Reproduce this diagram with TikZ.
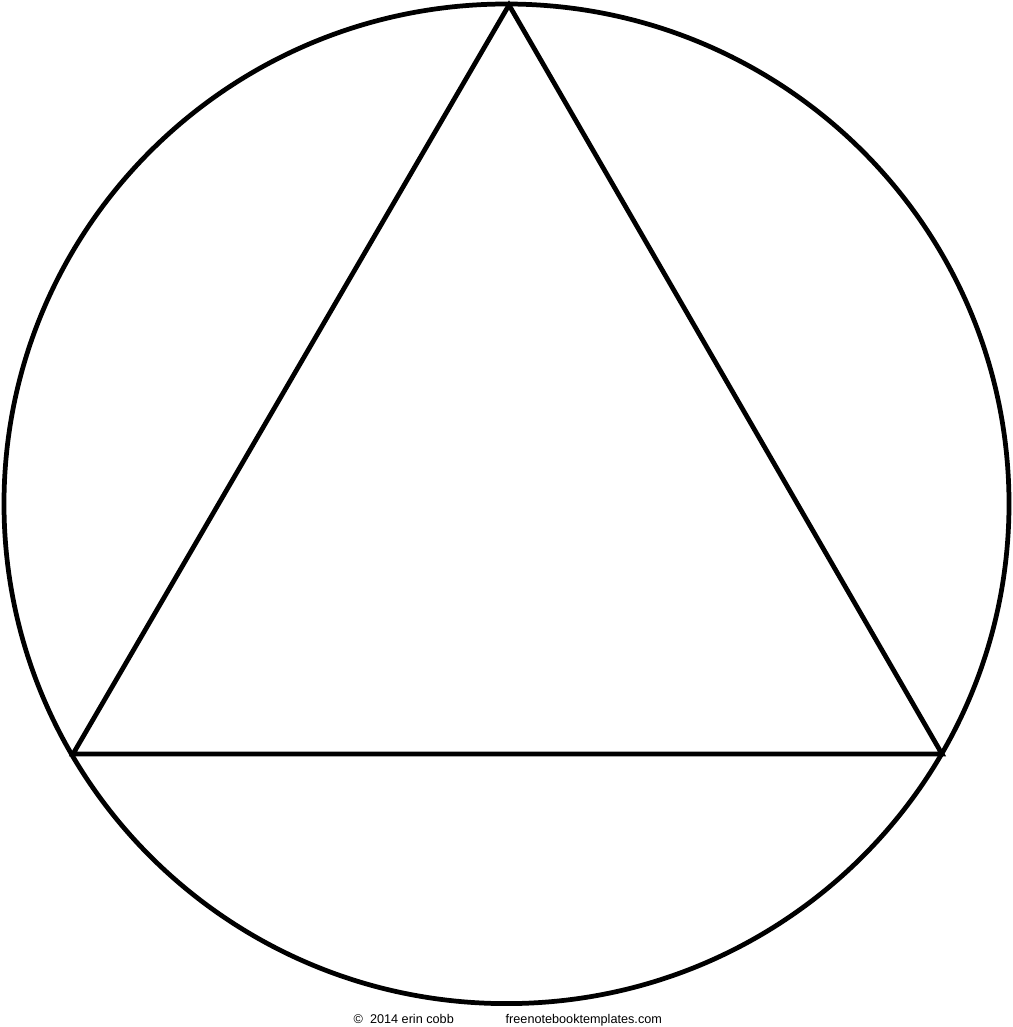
\documentclass[tikz,border=0pt]{standalone}
\usepackage{fontspec}
\setmainfont{Liberation Sans}

\begin{document}
\begin{tikzpicture}[x=0.01cm,y=-0.01cm]
\tikzstyle{outline}=[line width=1.35pt,color=black,line join=miter]
\tikzstyle{credit}=[inner sep=0pt,anchor=base west,font=\fontsize{3.6}{4}\selectfont]
\useasboundingbox (0,0) rectangle (1013,1027);
\coordinate (centre) at (506.5,503.8);
\coordinate (apex) at (509,5);
\coordinate (left) at (73,754);
\coordinate (right) at (942,754);
\draw[outline] (centre) ellipse [x radius=502.5, y radius=499.8];
\draw[outline] (apex) -- (left) -- (right) -- cycle;
\node[credit] (author) at (353,1023) {\textcopyright\ \ 2014 erin cobb};
\node[credit] (site) at (505,1023) {freenotebooktemplates.com};
\end{tikzpicture}
\end{document}
